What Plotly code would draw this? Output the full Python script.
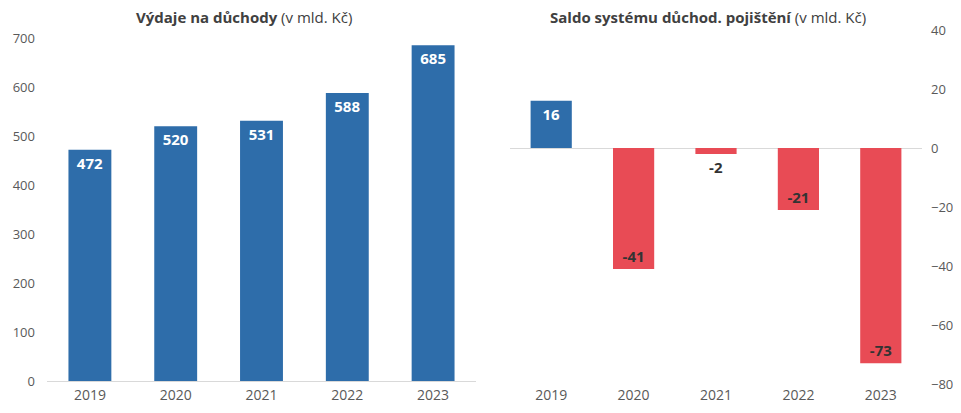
import plotly.graph_objects as go

years = ["2019", "2020", "2021", "2022", "2023"]
expenses = [472, 520, 531, 588, 685]
balance = [16, -41, -2, -21, -73]

BLUE = "#2E6DAA"
RED = "#E84B55"
DARK = "#333333"
GRAY = "#595959"
FONT = "Open Sans"

# page has an 8px body margin; work in screen coords and shift
OFF = 8
W, H = 961 - 2 * OFF, 413 - 2 * OFF
top_s, bot_s = 30, 384           # plot area in screen pixels
mt = top_s - OFF
mb = H - (bot_s - OFF)
ph = bot_s - top_s

fig = go.Figure()

fig.add_trace(go.Bar(
    x=years, y=expenses, xaxis="x", yaxis="y",
    marker=dict(color=BLUE, line=dict(width=0)),
    text=[str(v) for v in expenses],
    textposition="inside", insidetextanchor="end",
    textfont=dict(family=FONT, size=15, color="white", weight="bold"),
    cliponaxis=False, showlegend=False, hoverinfo="x+y",
))

bal_colors = [BLUE if v >= 0 else RED for v in balance]
bal_text_colors = ["white" if v >= 0 else DARK for v in balance]
bal_pos = ["outside" if abs(v) < 5 else "inside" for v in balance]
fig.add_trace(go.Bar(
    x=years, y=balance, xaxis="x2", yaxis="y2",
    marker=dict(color=bal_colors, line=dict(width=0)),
    text=[str(v) for v in balance],
    textposition=bal_pos, insidetextanchor="end",
    textfont=dict(family=FONT, size=15, color=bal_text_colors, weight="bold"),
    constraintext="none",
    cliponaxis=False, showlegend=False, hoverinfo="x+y",
))

def yfrac(py):
    return (bot_s - py) / ph

def xfrac(px):
    return (px - OFF) / W

fig.update_layout(
    width=W, height=H,
    margin=dict(l=0, r=0, t=mt, b=mb, autoexpand=False),
    paper_bgcolor="white", plot_bgcolor="white",
    bargap=0.5,
    font=dict(family=FONT, color=GRAY),
    xaxis=dict(domain=[xfrac(47), xfrac(476)], anchor="y", showgrid=False, showline=False,
               ticks="", tickfont=dict(size=14, color=GRAY), ticklabelstandoff=4),
    yaxis=dict(domain=[yfrac(381), yfrac(38)], anchor="x", range=[0, 700], dtick=100,
               showgrid=False, zeroline=True, zerolinecolor="#D9D9D9", zerolinewidth=1,
               showline=False, ticks="", tickfont=dict(size=13, color=GRAY),
               ticklabelstandoff=11),
    xaxis2=dict(domain=[xfrac(510), xfrac(922)], anchor="y2", showgrid=False, showline=False,
                ticks="", tickfont=dict(size=14, color=GRAY), ticklabelstandoff=1),
    yaxis2=dict(domain=[0, 1], anchor="x2", side="right", range=[-80, 40], dtick=20,
                showgrid=False, zeroline=True, zerolinecolor="#D9D9D9", zerolinewidth=1,
                showline=False, ticks="", tickfont=dict(size=13, color=GRAY),
                ticklabelstandoff=8),
    annotations=[
        dict(text="<b>Výdaje na důchody</b> (v mld. Kč)", x=xfrac(244), y=yfrac(17),
             xref="paper", yref="paper", showarrow=False, xanchor="center", yanchor="middle",
             font=dict(family=FONT, size=15, color="#404040")),
        dict(text="<b>Saldo systému důchod. pojištění</b> (v mld. Kč)", x=xfrac(708), y=yfrac(17),
             xref="paper", yref="paper", showarrow=False, xanchor="center", yanchor="middle",
             font=dict(family=FONT, size=15, color="#404040")),
    ],
)

fig.write_html("out.html")
